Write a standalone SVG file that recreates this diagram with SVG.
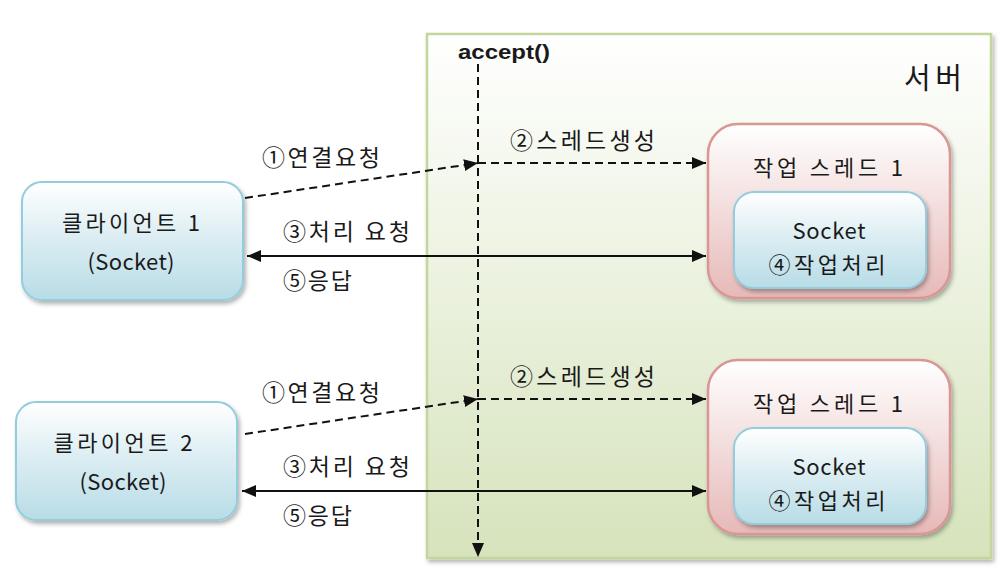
<svg xmlns="http://www.w3.org/2000/svg" width="1000" height="580" viewBox="0 0 1000 580">
<defs>
<style>
text{font-family:"Malgun Gothic","Noto Sans CJK KR","Noto Sans",sans-serif;fill:#1a1a1a}
.lbl{font-size:23px}
.node{font-size:22px;text-anchor:middle}
.dash{stroke:#111;stroke-width:2;stroke-dasharray:8 5;fill:none}
.solid{stroke:#111;stroke-width:2.2;fill:none}
</style>
<linearGradient id="gServer" x1="0" y1="0" x2="0" y2="1">
<stop offset="0" stop-color="#ffffff"/>
<stop offset="1" stop-color="#d6e3bc"/>
</linearGradient>
<linearGradient id="gBlue" x1="0" y1="0" x2="0" y2="1">
<stop offset="0" stop-color="#ffffff"/>
<stop offset="0.45" stop-color="#ddeef3"/>
<stop offset="1" stop-color="#b8dce6"/>
</linearGradient>
<linearGradient id="gPink" x1="0" y1="0" x2="0" y2="1">
<stop offset="0" stop-color="#ffffff"/>
<stop offset="1" stop-color="#e6b9b8"/>
</linearGradient>
<filter id="sh" x="-10%" y="-10%" width="125%" height="125%">
<feDropShadow dx="2" dy="3" stdDeviation="2" flood-color="#000" flood-opacity="0.3"/>
</filter>
<marker id="ah" markerWidth="14" markerHeight="12" refX="14" refY="6" orient="auto-start-reverse" markerUnits="userSpaceOnUse">
<path d="M0,0 L14,6 L0,12 Z" fill="#111"/>
</marker>
</defs>
<rect width="1000" height="580" fill="#ffffff"/>

<g id="server">
<rect x="427" y="34" width="564" height="524" fill="url(#gServer)" stroke="#c3d69b" stroke-width="2.5" filter="url(#sh)"/>
<text x="458" y="59" textLength="92" lengthAdjust="spacingAndGlyphs" style="font-family:'Liberation Sans',Arial,sans-serif;font-weight:bold;font-size:20px">accept()</text>
<text x="904" y="89" textLength="58" style="font-size:29px">서버</text>
</g>

<g id="client1">
<rect x="22" y="182" width="221" height="118" rx="20" fill="url(#gBlue)" stroke="#93cddd" stroke-width="2" filter="url(#sh)"/>
<text class="node" x="131" y="231" textLength="138">클라이언트 1</text>
<text class="node" x="131" y="270" textLength="87">(Socket)</text>
</g>

<g id="client2">
<rect x="16" y="402" width="221" height="118" rx="20" fill="url(#gBlue)" stroke="#93cddd" stroke-width="2" filter="url(#sh)"/>
<text class="node" x="123" y="451" textLength="139">클라이언트 2</text>
<text class="node" x="123" y="490" textLength="87">(Socket)</text>
</g>

<g id="thread1">
<rect x="708" y="124" width="242" height="174" rx="30" fill="url(#gPink)" stroke="#d99694" stroke-width="2.5" filter="url(#sh)"/>
<text class="node" x="828" y="176" textLength="150">작업 스레드 1</text>
<g id="socket1">
<rect x="734" y="192" width="192" height="96" rx="20" fill="url(#gBlue)" stroke="#93cddd" stroke-width="2" filter="url(#sh)"/>
<text class="node" x="829" y="239" textLength="73">Socket</text>
<text class="node" x="827" y="273" textLength="117">④작업처리</text>
</g>
</g>

<g id="thread2">
<rect x="708" y="360" width="242" height="174" rx="30" fill="url(#gPink)" stroke="#d99694" stroke-width="2.5" filter="url(#sh)"/>
<text class="node" x="828" y="412" textLength="150">작업 스레드 1</text>
<g id="socket2">
<rect x="734" y="428" width="192" height="96" rx="20" fill="url(#gBlue)" stroke="#93cddd" stroke-width="2" filter="url(#sh)"/>
<text class="node" x="829" y="475" textLength="73">Socket</text>
<text class="node" x="827" y="509" textLength="117">④작업처리</text>
</g>
</g>

<g id="connectors">
<line class="dash" x1="478" y1="64" x2="478" y2="557" marker-end="url(#ah)"/>
<line class="dash" x1="245" y1="198" x2="478" y2="163" marker-end="url(#ah)"/>
<line class="dash" x1="478" y1="163" x2="706" y2="163" marker-end="url(#ah)"/>
<line class="solid" x1="247" y1="256" x2="706" y2="256" marker-start="url(#ah)" marker-end="url(#ah)"/>
<line class="dash" x1="245" y1="434" x2="478" y2="399" marker-end="url(#ah)"/>
<line class="dash" x1="478" y1="399" x2="706" y2="399" marker-end="url(#ah)"/>
<line class="solid" x1="242" y1="491" x2="706" y2="491" marker-start="url(#ah)" marker-end="url(#ah)"/>
</g>

<g id="labels">
<text class="lbl" x="262" y="166" textLength="118">①연결요청</text>
<text class="lbl" x="510" y="149" textLength="145">②스레드생성</text>
<text class="lbl" x="283" y="240" textLength="127">③처리 요청</text>
<text class="lbl" x="283" y="289" textLength="69">⑤응답</text>
<text class="lbl" x="262" y="401" textLength="118">①연결요청</text>
<text class="lbl" x="510" y="385" textLength="145">②스레드생성</text>
<text class="lbl" x="283" y="475" textLength="127">③처리 요청</text>
<text class="lbl" x="283" y="524" textLength="69">⑤응답</text>
</g>
</svg>
